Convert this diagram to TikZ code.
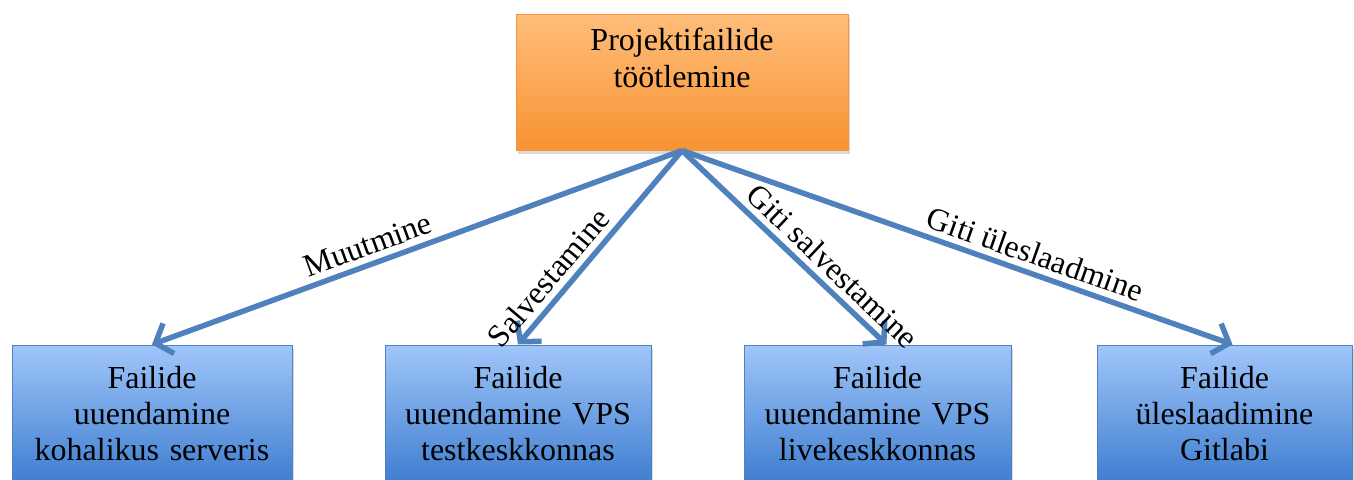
\documentclass[tikz,border=0pt]{standalone}
\usepackage{fontspec}
\setmainfont{Liberation Serif}
\usetikzlibrary{arrows.meta,shadows}
\definecolor{orangetop}{RGB}{254,189,122}
\definecolor{orangebot}{RGB}{248,147,50}
\definecolor{orangeline}{RGB}{246,146,64}
\definecolor{bluetop}{RGB}{160,198,250}
\definecolor{bluebot}{RGB}{62,125,207}
\definecolor{blueline}{RGB}{80,130,195}
\definecolor{arrowblue}{RGB}{79,129,189}
\tikzstyle{task} = [rectangle, 
minimum height=136pt,
inner sep=0pt,
align=center,
font=\fontsize{32}{37}\selectfont,
draw=orangeline, line width=1pt,
top color=orangetop, bottom color=orangebot,
drop shadow={shadow xshift=2pt, shadow yshift=-4pt, opacity=0.3}]
\tikzstyle{result} = [rectangle, 
minimum height=138pt,
inner sep=0pt,
align=center,
font=\fontsize{32}{36}\selectfont,
draw=blueline, line width=1pt,
top color=bluetop, bottom color=bluebot,
drop shadow={shadow xshift=2pt, shadow yshift=-4pt, opacity=0.3}]
\tikzstyle{arrow} = [line width=5.5pt, draw=arrowblue, -{Straight Barb[length=14pt,width=32pt]}]
\tikzstyle{lbl} = [font=\fontsize{32}{36}\selectfont, sloped, above, inner sep=6pt]
\begin{document}
\begin{tikzpicture}[x=1pt, y=-1pt]
\useasboundingbox (0,0) rectangle (1354,479);

\node (proc) [task, minimum width=332pt, text width=320pt] at (682,82) {Projektifailide\\töötlemine\\\strut};

\node (local) [result, minimum width=280pt, text width=276pt] at (152,414) {Failide\\uuendamine\\kohalikus serveris};
\node (test) [result, minimum width=266pt, text width=262pt] at (518,414) {Failide\\uuendamine VPS\\testkeskkonnas};
\node (live) [result, minimum width=267pt, text width=263pt] at (877.5,414) {Failide\\uuendamine VPS\\livekeskkonnas};
\node (gitlab) [result, minimum width=255pt, text width=251pt] at (1224.5,414) {Failide\\üleslaadimine\\Gitlabi};

\draw [arrow] (proc.south) -- (local.north) node [lbl, pos=0.58] {Muutmine};
\draw [arrow] (proc.south) -- (test.north) node [lbl, pos=0.72] {Salvestamine};
\draw [arrow] (proc.south) -- ([xshift=9pt]live.north) node [lbl, pos=0.67] {Giti salvestamine};
\draw [arrow] (proc.south) -- ([xshift=8pt]gitlab.north) node [lbl, pos=0.63] {Giti üleslaadmine};

\end{tikzpicture}
\end{document}
